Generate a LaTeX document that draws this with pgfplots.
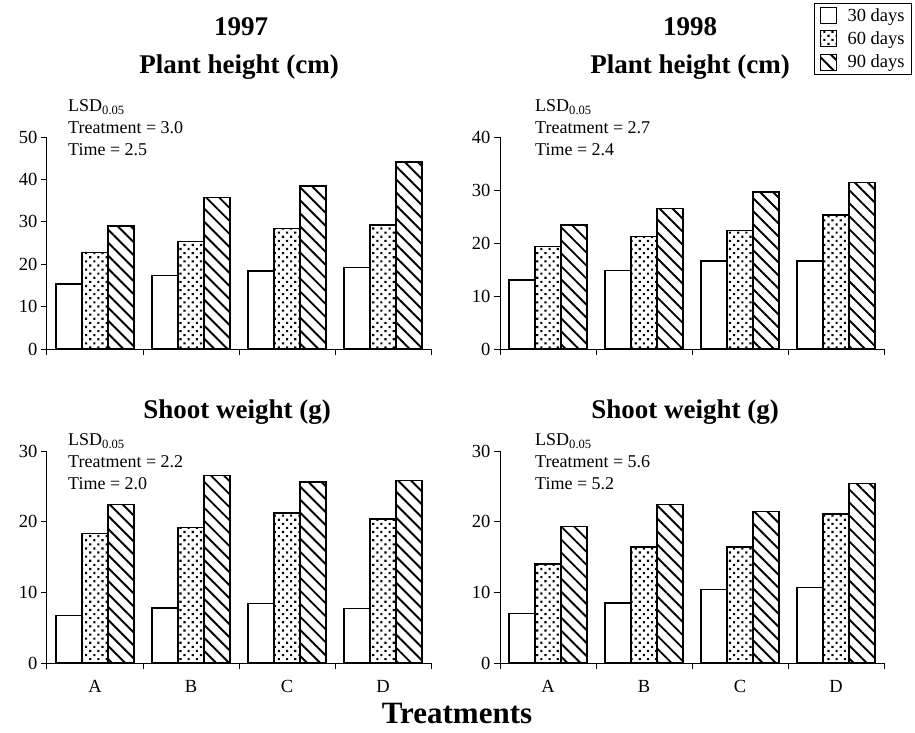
\documentclass[border=0pt]{standalone}
\usepackage{pgfplots}
\pgfplotsset{compat=1.18}
\usepackage{fontspec}
\setmainfont{Liberation Serif}
\usetikzlibrary{patterns.meta}

\tikzset{
 p30/.style={fill=white},
 p60/.style={pattern={Dots[angle=45,distance=5.8bp,radius=1.5bp]}},
 p90/.style={pattern={Lines[angle=-45,distance=9.2bp,line width=1.9bp]}},
}

\pgfplotsset{
 panel/.style={
  scale only axis, width=384bp, height=212bp, anchor=south west,
  xmin=-0.5, xmax=3.5, ymin=0,
  axis x line*=bottom, axis y line*=left,
  axis line style={line width=1bp, -},
  tick align=outside, major tick length=6bp,
  tick style={line width=1bp, black},
  xtick={-0.5,0.5,1.5,2.5,3.5}, xticklabels={},
  ybar, bar width=0.27,
  every axis plot/.append style={draw=black, line width=1.4bp},
  ticklabel style={font=\fontsize{18.5bp}{21bp}\selectfont},
  /pgf/number format/assume math mode=true,
  clip=false,
 },
 catlabels/.style={
  extra x ticks={0,1,2,3}, extra x tick labels={A,B,C,D},
  extra x tick style={major tick length=0pt, xticklabel style={yshift=-14bp}},
 },
}

\begin{document}
\begin{tikzpicture}
\useasboundingbox (0,0) rectangle (915bp,-733bp);

% Top left: 1997 plant height
\begin{axis}[panel, at={(47bp,-349bp)}, ymax=50, ytick={0,10,...,50}]
\addplot[p30, bar shift=-0.27] coordinates {(0,15.3) (1,17.4) (2,18.4) (3,19.2)};
\addplot[p60, bar shift=0] coordinates {(0,22.8) (1,25.4) (2,28.4) (3,29.2)};
\addplot[p90, bar shift=0.27] coordinates {(0,29.0) (1,35.8) (2,38.4) (3,44.1)};
\end{axis}

% Top right: 1998 plant height
\begin{axis}[panel, at={(500bp,-349bp)}, ymax=40, ytick={0,10,...,40},
  legend style={at={(1.073,1.632)}, anchor=north east, draw=black, line width=1bp,
    font=\fontsize{18.5bp}{21bp}\selectfont, inner xsep=5bp, inner ysep=3bp, row sep=5bp,
    /tikz/every odd column/.append style={column sep=9bp}},
  legend image code/.code={\draw[#1, line width=1bp] (0bp,-8bp) rectangle (16bp,8bp);},
  legend cell align=left]
\addplot[p30, bar shift=-0.27] coordinates {(0,13.0) (1,14.8) (2,16.6) (3,16.6)};
\addplot[p60, bar shift=0] coordinates {(0,19.3) (1,21.2) (2,22.4) (3,25.3)};
\addplot[p90, bar shift=0.27] coordinates {(0,23.4) (1,26.5) (2,29.6) (3,31.4)};
\legend{30 days, 60 days, 90 days}
\end{axis}

% Bottom left: 1997 shoot weight
\begin{axis}[panel, catlabels, at={(47bp,-663bp)}, ymax=30, ytick={0,10,...,30}]
\addplot[p30, bar shift=-0.27] coordinates {(0,6.7) (1,7.8) (2,8.4) (3,7.7)};
\addplot[p60, bar shift=0] coordinates {(0,18.3) (1,19.2) (2,21.2) (3,20.4)};
\addplot[p90, bar shift=0.27] coordinates {(0,22.4) (1,26.5) (2,25.6) (3,25.8)};
\end{axis}

% Bottom right: 1998 shoot weight
\begin{axis}[panel, catlabels, at={(500bp,-663bp)}, ymax=30, ytick={0,10,...,30}]
\addplot[p30, bar shift=-0.27] coordinates {(0,7.0) (1,8.5) (2,10.4) (3,10.7)};
\addplot[p60, bar shift=0] coordinates {(0,14.0) (1,16.4) (2,16.4) (3,21.1)};
\addplot[p90, bar shift=0.27] coordinates {(0,19.3) (1,22.4) (2,21.4) (3,25.4)};
\end{axis}

% Titles
\begin{scope}[every node/.style={font=\bfseries\fontsize{27bp}{30bp}\selectfont, inner sep=0}]
\node at (241bp,-27bp) {1997};
\node at (690bp,-27bp) {1998};
\node at (239bp,-67bp) {Plant height (cm)};
\node at (690bp,-67bp) {Plant height (cm)};
\node at (237bp,-412bp) {Shoot weight (g)};
\node at (685bp,-412bp) {Shoot weight (g)};
\node[font=\bfseries\fontsize{31bp}{34bp}\selectfont] at (457bp,-713bp) {Treatments};
\end{scope}

% LSD annotations
\begin{scope}[every node/.style={anchor=west, align=left, inner sep=0, font=\fontsize{18bp}{22bp}\selectfont}]
\node at (68bp,-128bp) {LSD\textsubscript{0.05}\\Treatment = 3.0\\Time = 2.5};
\node at (535bp,-128bp) {LSD\textsubscript{0.05}\\Treatment = 2.7\\Time = 2.4};
\node at (68bp,-462bp) {LSD\textsubscript{0.05}\\Treatment = 2.2\\Time = 2.0};
\node at (535bp,-462bp) {LSD\textsubscript{0.05}\\Treatment = 5.6\\Time = 5.2};
\end{scope}
\end{tikzpicture}
\end{document}
